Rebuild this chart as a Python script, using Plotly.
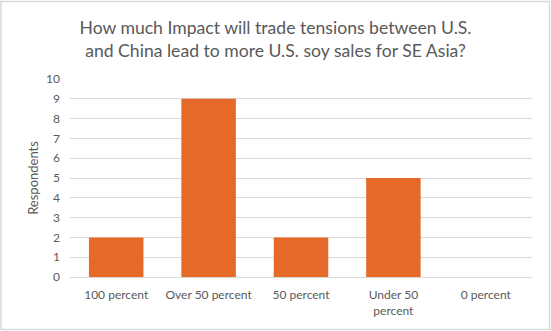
import plotly.graph_objects as go

categories = ["100 percent", "Over 50 percent", "50 percent", "Under 50<br>percent", "0 percent"]
respondents = [2, 9, 2, 5, 0]
y_ticks = list(range(0, 11))

W, H = 551, 331
ml, mr, mt, mb = 70, 19, 79, 54
pw, ph = W - ml - mr, H - mt - mb
FONT = "Lato, Open Sans, sans-serif"

fig = go.Figure(go.Bar(x=categories, y=respondents, marker_color="#E56A2A",
                       marker_line_width=0, width=0.59))

fig.update_layout(
    width=W, height=H,
    margin=dict(l=ml, r=mr, t=mt, b=mb),
    paper_bgcolor="white", plot_bgcolor="white",
    font=dict(family=FONT, color="#595959", size=12),
    title=dict(text="How much Impact will trade tensions between U.S.<br>and China lead to more U.S. soy sales for SE Asia?",
               x=0.5, xanchor="center", y=1 - 34 / H, yanchor="middle",
               font=dict(family=FONT, size=17.6, color="#595959")),
    showlegend=False,
    bargap=0.41,
    shapes=[dict(type="rect", xref="paper", yref="paper",
                 x0=(1 - ml) / pw, x1=(W - 1.5 - ml) / pw,
                 y0=-(mb - 1.5) / ph, y1=1 + (mt - 1.5) / ph,
                 line=dict(color="#D9D9D9", width=1.5), fillcolor="rgba(0,0,0,0)", layer="below")],
)
fig.update_yaxes(range=[0, 10], tickvals=y_ticks, showgrid=True, gridcolor="#D9D9D9", gridwidth=1,
                 zeroline=False, showline=False, ticks="", ticklen=0, ticklabelstandoff=9,
                 tickfont=dict(family=FONT, size=12, color="#595959"),
                 title=dict(text="Respondents", font=dict(family=FONT, size=13, color="#595959"), standoff=4))
fig.update_xaxes(showline=True, linecolor="#D9D9D9", linewidth=1, ticks="", showgrid=False,
                 ticklabelstandoff=7,
                 tickfont=dict(family=FONT, size=12, color="#595959"))

fig.write_html("out.html")
